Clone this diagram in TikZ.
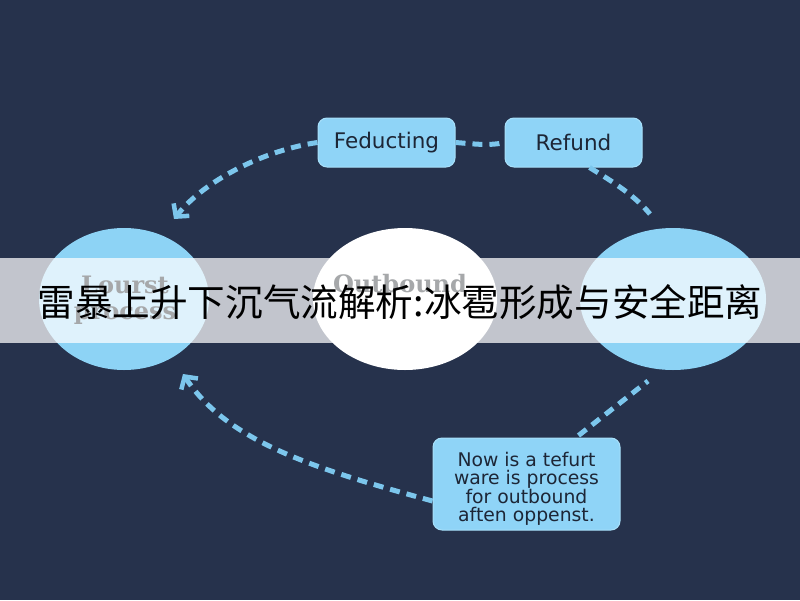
\documentclass[tikz,border=0pt]{standalone}
\usepackage{fontspec}
\usetikzlibrary{shapes.geometric,arrows.meta}
\newfontfamily\cjk{Noto Sans CJK SC}
\newfontfamily\dvs{DejaVu Sans}
\newfontfamily\dvserif{DejaVu Serif}
\definecolor{bgnavy}{HTML}{26324C}
\definecolor{skyfill}{HTML}{8DD3F5}
\definecolor{boxfill}{HTML}{8FD4F7}
\definecolor{boxline}{HTML}{A8E0FA}
\definecolor{dashblue}{HTML}{7CC6EC}
\definecolor{inktext}{HTML}{1D2636}
\definecolor{fadetext}{HTML}{A6A8AA}
\tikzset{
  bubble/.style={ellipse, inner sep=0pt},
  labelbox/.style={rectangle, rounded corners=9pt, fill=boxfill, draw=boxline, line width=1pt,
    text=inktext, font=\dvs\fontsize{21.5}{24}\selectfont, inner sep=0pt},
  flow/.style={draw=dashblue, line width=5pt, dash pattern=on 10pt off 7pt},
  flowtip/.style={-{Straight Barb[length=9pt,width=20pt,line width=4.5pt]}},
  fadelabel/.style={text=fadetext, font=\dvserif\bfseries\fontsize{24}{26}\selectfont, align=center},
}
\begin{document}
\begin{tikzpicture}[x=1pt,y=-1pt]
\fill[bgnavy] (0,0) rectangle (800,600);
\useasboundingbox (0,0) rectangle (800,600);

% circles
\node[bubble, fill=skyfill, minimum width=170pt, minimum height=142pt] (lc) at (124,299) {};
\node[bubble, fill=white, minimum width=184pt, minimum height=142pt] (mc) at (405,299) {};
\node[bubble, fill=skyfill, minimum width=186pt, minimum height=142pt] (rc) at (673,299) {};

% band
\fill[white, opacity=0.72] (0,258) rectangle (800,343);

% faded circle labels
\node[fadelabel] (lt) at (125,300) {Lourst\\process};
\node[fadelabel, anchor=base] (mt) at (400,292) {Outbound};

% title
\node[font=\cjk\fontsize{37.6}{40}\selectfont, text=black] (title) at (400,302) {雷暴上升下沉气流解析:冰雹形成与安全距离};

% boxes
\node[labelbox, minimum width=137pt, minimum height=49pt] (fed) at (386.5,142.5) {Feducting};
\node[labelbox, minimum width=137pt, minimum height=49pt] (ref) at (573.5,142.5) {Refund};
\node[labelbox, minimum width=187pt, minimum height=92pt] (note) at (526.5,484) {};
\node[align=center, text=inktext, font=\dvs\fontsize{18.8}{18.5}\selectfont, inner sep=0pt]
  (notetext) at ([yshift=-5pt]note.center)
  {Now is a tefurt\\ware is process\\for outbound\\aften oppenst.};

% free ends
\coordinate (t1) at (174,219);
\coordinate (t2) at (183,374);
\coordinate (e3) at (650,214);
\coordinate (e4) at (648,381);

% connectors
\draw[flow, flowtip] (fed.west) .. controls (265,150) and (205,180) .. (t1);
\draw[flow] (fed.east) .. controls (475,144) and (490,146) .. (ref.west);
\draw[flow] ([xshift=16pt]ref.south) .. controls (615,183) and (635,196) .. (e3);
\draw[flow] ([xshift=52pt,yshift=2pt]note.north) -- (e4);
\draw[flow, flowtip] ([yshift=-17pt]note.west) .. controls (315,469) and (228,442) .. (t2);
\end{tikzpicture}
\end{document}
